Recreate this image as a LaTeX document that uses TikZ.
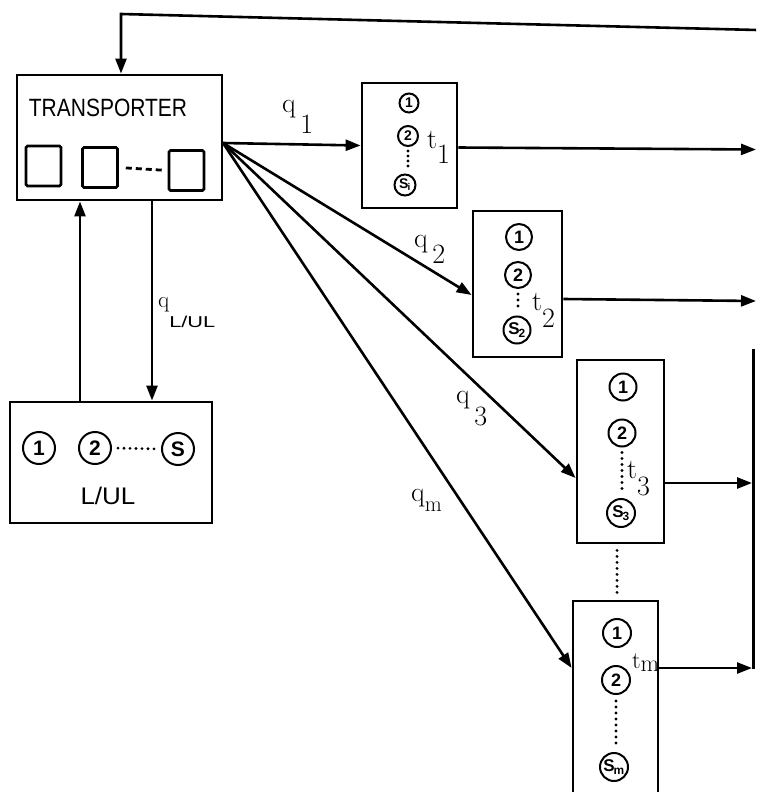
\documentclass[tikz,border=0pt]{standalone}
\usepackage{fontspec}
\setsansfont{Liberation Sans}
\usetikzlibrary{arrows.meta,calc}
\begin{document}
\begin{tikzpicture}[x=1pt,y=-1pt,
  box/.style={draw,line width=2.8pt,inner sep=0pt},
  arr/.style={line width=2.6pt,-{Triangle[length=15pt,width=11pt]}},
  circ/.style={draw,circle,line width=2pt,inner sep=0pt,font=\sffamily\bfseries\fontsize{18}{18}\selectfont},
  sq/.style={draw,line width=2.6pt,rounded corners=1.5pt,minimum width=35pt,minimum height=40pt,inner sep=0pt},
  lbl/.style={inner sep=0pt,anchor=base west,font=\fontsize{28}{28}\selectfont},
  dots/.style={line width=3.2pt,dash pattern=on 0pt off 6pt,line cap=round},
]
\clip (0,0) rectangle (756,792);

% transporter
\node[box,minimum width=205pt,minimum height=125pt] (tr) at (119.5,137.5) {};
\node[inner sep=0pt,font=\sffamily\fontsize{20}{20}\selectfont] (trt) at (108,108) {\scalebox{1.05}[1.25]{TRANSPORTER}};
\node[sq] (b1) at (43.5,166) {};
\node[sq] (b2) at (100,167.5) {};
\node[sq] (b3) at (186.5,170.5) {};
\draw[line width=2.8pt,dash pattern=on 6pt off 4pt,shorten <=7pt,shorten >=5pt] (b2.east) -- (b3.west);

% L/UL
\node[box,minimum width=202pt,minimum height=121pt] (lu) at (111,462.5) {};
\node[circ,minimum size=32pt,font=\sffamily\bfseries\fontsize{21}{21}\selectfont] (l1) at (39,448) {1};
\node[circ,minimum size=32pt,font=\sffamily\bfseries\fontsize{21}{21}\selectfont] (l2) at (95,448) {2};
\node[circ,minimum size=32pt,font=\sffamily\bfseries\fontsize{21}{21}\selectfont] (lS) at (178,449) {S};
\draw[dots,shorten <=6pt,shorten >=4pt] (l2.east) -- (lS.west);
\node[inner sep=0pt,font=\sffamily\fontsize{20}{20}\selectfont] (lut) at (108,496) {\scalebox{1.3}[1.2]{L/UL}};

\coordinate (xa) at (80,0);
\coordinate (xb) at (152,0);
\draw[arr] (lu.north -| xa) -- (tr.south -| xa);
\draw[arr] (tr.south -| xb) -- (lu.north -| xb);
\node[lbl,font=\fontsize{23}{23}\selectfont] (qlu) at (158,307) {q\raisebox{-20pt}{\sffamily\fontsize{15}{15}\selectfont\scalebox{1.45}[1.05]{L/UL}}};

% feedback line
\coordinate (fbR) at (757,30);
\coordinate (fbL) at (121,14);
\draw[arr] (fbR) -- (fbL) -- (tr.north -| fbL);

% stations
\node[box,minimum width=95pt,minimum height=125pt] (s1) at (409.5,145.5) {};
\node[box,minimum width=89pt,minimum height=146pt] (s2) at (517.5,284) {};
\node[box,minimum width=87pt,minimum height=183pt] (s3) at (620.5,451.5) {};
\node[box,minimum width=85pt,minimum height=200pt] (sm) at (615.5,701) {};

% station 1 content
\node[circ,minimum size=19pt,font=\sffamily\bfseries\fontsize{14}{14}\selectfont] (s1c1) at (409,103) {1};
\node[circ,minimum size=20pt,font=\sffamily\bfseries\fontsize{14}{14}\selectfont] (s1c2) at (408,136) {2};
\node[circ,minimum size=21pt,font=\sffamily\bfseries\fontsize{14}{14}\selectfont] (s1cs) at (405,185) {S\kern-1pt\textsubscript{i}};
\draw[dots,dash pattern=on 0pt off 5pt,shorten <=4pt,shorten >=4pt] (s1c2.south) -- (s1cs.north -| s1c2.south);
\node[lbl] (t1) at (427,148) {t\raisebox{-15pt}{1}};

% station 2 content
\node[circ,minimum size=26pt] (s2c1) at (519,237) {1};
\node[circ,minimum size=26pt] (s2c2) at (518,275) {2};
\node[circ,minimum size=27pt,font=\sffamily\bfseries\fontsize{17}{17}\selectfont] (s2cs) at (517,330) {S\kern-1pt\textsubscript{2}};
\draw[dots,shorten <=5pt,shorten >=4pt] (s2c2.south) -- (s2cs.north -| s2c2.south);
\node[lbl] (t2) at (532,310) {t\raisebox{-17pt}{2}};

% station 3 content
\node[circ,minimum size=27pt] (s3c1) at (623,387) {1};
\node[circ,minimum size=27pt] (s3c2) at (622,433) {2};
\node[circ,minimum size=28pt,font=\sffamily\bfseries\fontsize{17}{17}\selectfont] (s3cs) at (621,513) {S\kern-1pt\textsubscript{3}};
\draw[dots,shorten <=5pt,shorten >=4pt] (s3c2.south) -- (s3cs.north -| s3c2.south);
\node[lbl] (t3) at (627,478) {t\raisebox{-17pt}{3}};

% dots between station 3 and m
\draw[dots,shorten <=6pt,shorten >=5pt] (s3.south -| 617,0) -- (sm.north -| 617,0);

% station m content
\node[circ,minimum size=28pt] (smc1) at (617,633) {1};
\node[circ,minimum size=28pt] (smc2) at (616,680) {2};
\node[circ,minimum size=28pt,font=\sffamily\bfseries\fontsize{17}{17}\selectfont] (smcs) at (614,767) {S\kern-1pt\textsubscript{m}};
\draw[dots,shorten <=6pt,shorten >=5pt] (smc2.south) -- (smcs.north -| smc2.south);
\node[lbl,font=\fontsize{24}{24}\selectfont] (tm) at (632,668) {t\raisebox{-3pt}{m}};

% fan arrows
\coordinate (src) at (223,143);
\draw[arr] (src) -- (s1.west);
\draw[arr] (src) -- ($(s2.west)+(0,11)$);
\draw[arr] (src) -- ($(s3.west)+(0,26.5)$);
\draw[arr] (src) -- ($(sm.west)+(0,-33)$);

\node[lbl] (q1) at (282,112) {q\raisebox{-21pt}{\,1}};
\node[lbl] (q2) at (414,247) {q\raisebox{-16pt}{\,2}};
\node[lbl] (q3) at (456,403) {q\raisebox{-22pt}{\,3}};
\node[lbl] (qm) at (411,501) {q\raisebox{-10pt}{\fontsize{22}{22}\selectfont m}};

% outputs
\coordinate (vx) at (753,0);
\coordinate (ex) at (756,0);
\draw[arr] ($(s1.east)+(0,2)$) -- ($(s1.east -| ex)+(0,4)$);
\draw[arr] ($(s2.east)+(0,15)$) -- ($(s2.east -| ex)+(0,17)$);
\draw[arr] ($(s3.east)+(0,31.5)$) -- ($(s3.east -| vx)+(-1,31.5)$);
\draw[arr] ($(sm.east)+(0,-33)$) -- ($(sm.east -| vx)+(-1,-33)$);
\draw[line width=3pt] ($(s3.east -| vx)+(0,-103)$) -- ($(sm.east -| vx)+(0,-32)$);
\end{tikzpicture}
\end{document}
